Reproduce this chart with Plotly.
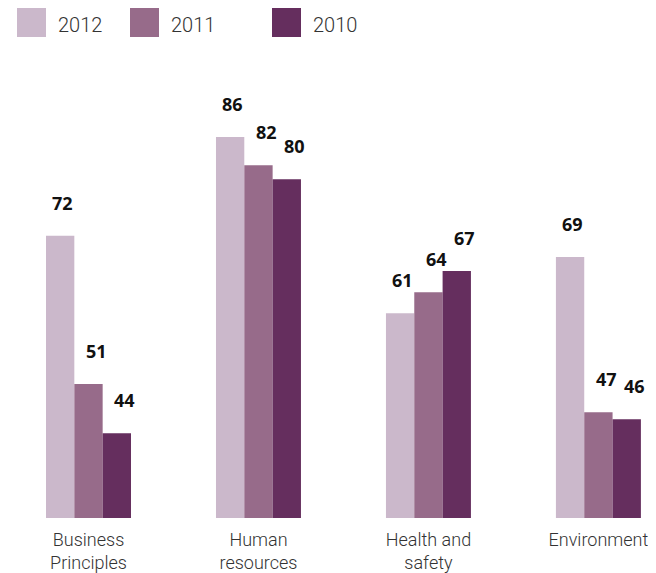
import plotly.graph_objects as go

categories = ["Business<br>Principles", "Human<br>resources", "Health and<br>safety", "Environment"]
years = ["2012", "2011", "2010"]
v2012 = [72, 86, 61, 69]
v2011 = [51, 82, 64, 47]
v2010 = [44, 80, 67, 46]

colors = ["#CBB8CB", "#976B8A", "#652E5E"]
series = [v2012, v2011, v2010]

# page body has an 8px margin, so the figure is a bit smaller than the window
W, H = 648, 565
ML, MR, MT, MB = 12, 10, 52, 55
pw, ph = W - ML - MR, H - MT - MB

fig = go.Figure()
for name, vals, col in zip(years, series, colors):
    fig.add_trace(go.Bar(x=categories, y=vals, name=name, marker_color=col,
                         marker_line_width=0, showlegend=False))

# value labels, sitting well above each bar
shifts = [-26, 8, 36]
for vals, xs in zip(series, shifts):
    for c, v in zip(categories, vals):
        fig.add_annotation(x=c, y=v, text="<b>%d</b>" % v, showarrow=False,
                           xshift=xs, yshift=33, yanchor="middle",
                           font=dict(family="Open Sans", size=18, color="#111"))

# hand-made legend with big squares
leg_x = [9, 122, 264]
for name, col, lx in zip(years, colors, leg_x):
    fig.add_shape(type="rect", xref="paper", yref="paper",
                  x0=(lx - ML) / pw, x1=(lx + 29 - ML) / pw,
                  y0=(H - MB - 29) / ph, y1=(H - MB) / ph,
                  fillcolor=col, line_width=0)
    fig.add_annotation(xref="paper", yref="paper", x=(lx + 39 - ML) / pw,
                       y=(H - MB - 17) / ph, text=name, showarrow=False,
                       xanchor="left", yanchor="middle",
                       font=dict(family="Roboto", size=20, color="#333", weight=300))

fig.update_layout(
    width=W, height=H,
    margin=dict(l=ML, r=MR, t=MT, b=MB, autoexpand=False),
    barmode="group", bargap=0.5, bargroupgap=0,
    plot_bgcolor="white", paper_bgcolor="white",
    xaxis=dict(range=[-0.403, 3.28], showgrid=False, showline=False, ticks="",
               automargin=False, ticklabelstandoff=9,
               tickfont=dict(family="Roboto", size=18, color="#333", weight=300)),
    yaxis=dict(range=[32, 96.9], visible=False, automargin=False),
)

fig.write_html("out.html")
